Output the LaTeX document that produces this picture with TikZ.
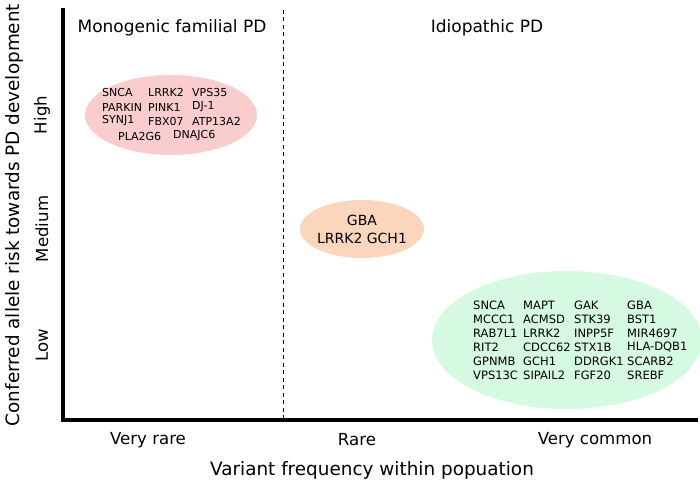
\documentclass[tikz,border=0pt]{standalone}
\usepackage{fontspec}
\setmainfont{DejaVu Sans}
\usetikzlibrary{shapes.geometric}
\definecolor{pinkfill}{RGB}{249,205,205}
\definecolor{orangefill}{RGB}{251,214,188}
\definecolor{greenfill}{RGB}{213,249,225}
\begin{document}
\begin{tikzpicture}[x=1pt,y=-1pt,
  axis/.style={line width=3.5pt},
  divider/.style={line width=0.9pt,dash pattern=on 4pt off 3.5pt},
  blob/.style={ellipse,draw=none,inner sep=0pt},
  heading/.style={font=\fontsize{17}{20}\selectfont},
  ticklab/.style={font=\fontsize{16.6}{20}\selectfont},
  axtitle/.style={font=\fontsize{18.4}{21}\selectfont},
  gene/.style={anchor=west,inner sep=0pt,font=\fontsize{11}{13}\selectfont},
  ggene/.style={anchor=west,inner sep=0pt,font=\fontsize{11.5}{13}\selectfont},
  ogene/.style={align=center,inner sep=0pt,font=\fontsize{14}{18}\selectfont}]
\useasboundingbox (0,0) rectangle (700,481);
% ellipses
\node[blob,fill=pinkfill,minimum width=172pt,minimum height=80pt] (pink) at (171,115) {};
\node[blob,fill=orangefill,minimum width=124pt,minimum height=58pt] (orange) at (362,229) {};
\node[blob,fill=greenfill,minimum width=270pt,minimum height=138pt] (green) at (567,340) {};
% axes
\coordinate (ytop) at (63,8);
\coordinate (origin) at (63,420);
\coordinate (xend) at (698,420);
\coordinate (dtop) at (283,10);
\coordinate (dbot) at (283,420);
\draw[axis] (ytop) -- (origin) -- (xend);
\draw[divider] (dtop) -- (dbot);
% headings
\node[heading] (mono) at (172,28) {Monogenic familial PD};
\node[heading] (idio) at (487,28) {Idiopathic PD};
% y ticks
\node[ticklab,rotate=90] (high) at (42,115) {High};
\node[ticklab,rotate=90] (med) at (42,229) {Medium};
\node[ticklab,rotate=90] (low) at (42,345) {Low};
\node[axtitle,rotate=90] (ytitle) at (14,215) {Conferred allele risk towards PD development};
% x ticks
\node[ticklab] (vrare) at (148,440) {Very rare};
\node[ticklab] (rare) at (357,440) {Rare};
\node[ticklab] (vcommon) at (595,440) {Very common};
\node[axtitle] (xtitle) at (372,470) {Variant frequency within popuation};
% pink genes
\node[gene] (p1) at (102,92) {SNCA};
\node[gene] (p2) at (148,92) {LRRK2};
\node[gene] (p3) at (192,92) {VPS35};
\node[gene] (p4) at (102,107) {PARKIN};
\node[gene] (p5) at (148,107) {PINK1};
\node[gene] (p6) at (192,107) {DJ-1};
\node[gene] (p7) at (102,121) {SYNJ1};
\node[gene] (p8) at (148,121) {FBX07};
\node[gene] (p9) at (192,121) {ATP13A2};
\node[gene] (p10) at (118,136) {PLA2G6};
\node[gene] (p11) at (173,136) {DNAJC6};
% orange genes
\node[ogene] (o1) at (orange.center) {GBA\\LRRK2 GCH1};
% green genes
\foreach \a/\b/\c/\d [count=\r from 0] in {SNCA/MAPT/GAK/GBA, MCCC1/ACMSD/STK39/BST1, RAB7L1/LRRK2/INPP5F/MIR4697, RIT2/CDCC62/STX1B/HLA-DQB1, GPNMB/GCH1/DDRGK1/SCARB2, VPS13C/SIPAIL2/FGF20/SREBF}{
  \node[ggene] (ga\r) at (473,305+14*\r) {\a};
  \node[ggene] (gb\r) at (523,305+14*\r) {\b};
  \node[ggene] (gc\r) at (574,305+14*\r) {\c};
  \node[ggene] (gd\r) at (627,305+14*\r) {\d};
}
\end{tikzpicture}
\end{document}
